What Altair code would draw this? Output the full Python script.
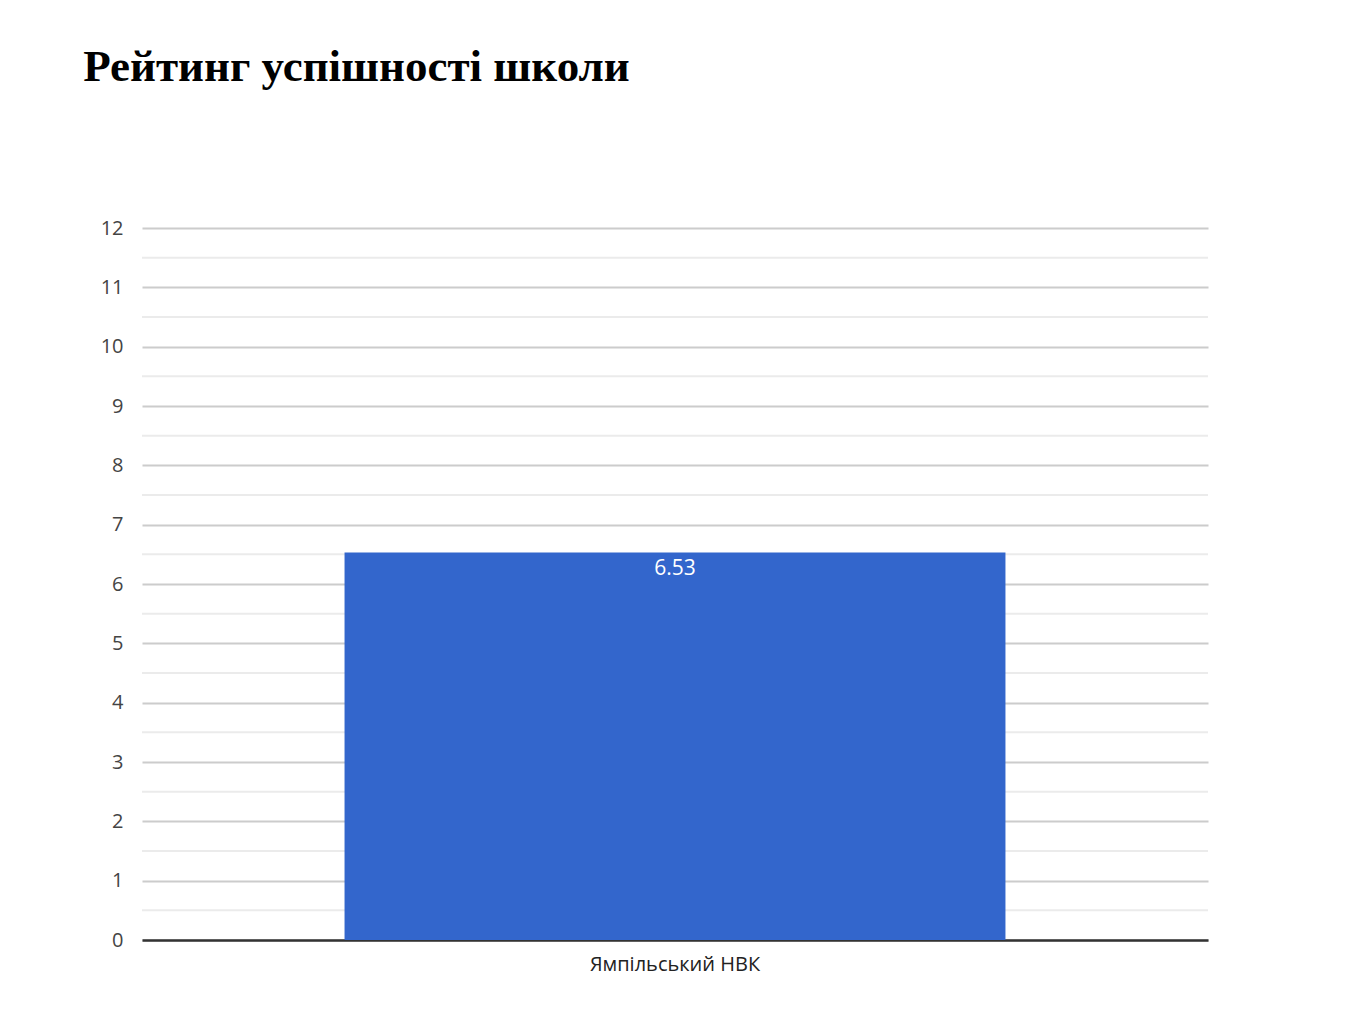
import altair as alt
import pandas as pd

schools = ["Ямпільський НВК"]
ratings = [6.53]
y_ticks = [0, 1, 2, 3, 4, 5, 6, 7, 8, 9, 10, 11, 12]
minor_ticks = [0.5, 1.5, 2.5, 3.5, 4.5, 5.5, 6.5, 7.5, 8.5, 9.5, 10.5, 11.5]

df = pd.DataFrame({"school": schools, "rating": ratings})
minor_df = pd.DataFrame({"v": minor_ticks})

x = alt.X("school:N", title=None,
          scale=alt.Scale(paddingInner=0.38, paddingOuter=0.19),
          axis=alt.Axis(labelAngle=0, labelFont="Open Sans", labelFontSize=20,
                        labelColor="#222222", labelPadding=14, ticks=False,
                        domainColor="#333333", domainWidth=2.5, grid=False))
y = alt.Y("rating:Q", title=None,
          scale=alt.Scale(domain=[0, 12], nice=False),
          axis=alt.Axis(values=y_ticks, format="d", labelFont="Open Sans", labelFontSize=20,
                        labelColor="#444444", labelPadding=19, ticks=False, domain=False,
                        gridWidth=2, gridColor="#cccccc"))

minor = alt.Chart(minor_df).mark_rule(color="#ebebeb", strokeWidth=2).encode(
    y=alt.Y("v:Q", scale=alt.Scale(domain=[0, 12], nice=False)))
bars = alt.Chart(df).mark_bar(color="#3366cc").encode(x=x, y=y)
labels = alt.Chart(df).mark_text(color="white", font="Open Sans", fontSize=21,
                                 baseline="top", dy=5).encode(
    x=alt.X("school:N"), y=alt.Y("rating:Q"), text=alt.Text("rating:Q", format=".2f"))

chart = (minor + bars + labels).properties(
    width=1066, height=712,
    background="white",
    autosize=alt.AutoSizeParams(type="none"),
    padding={"left": 134, "top": 220, "right": 120, "bottom": 60},
    title=alt.TitleParams("Рейтинг успішності школи", font="Liberation Serif", fontSize=45,
                          fontWeight="bold", color="black", anchor="start", dx=-17, offset=128),
).configure_view(strokeWidth=0, stroke="transparent")

chart.save("out.html", embed_options={"renderer": "svg", "actions": False})
